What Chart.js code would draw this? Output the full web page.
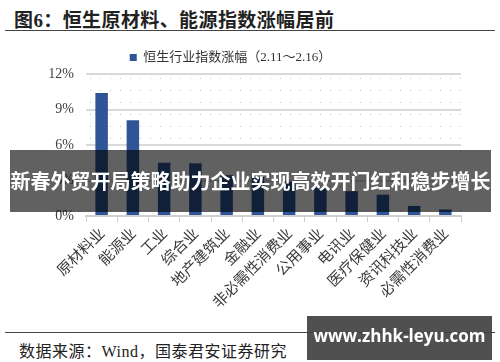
<!DOCTYPE html>
<html>
<head>
<meta charset="utf-8">
<script src="https://cdn.jsdelivr.net/npm/chart.js@4.4.1/dist/chart.umd.min.js"></script>
<style>
  html, body { margin:0; padding:0; background:#fff; }
  body { width:500px; height:362px; position:relative; overflow:hidden; }
  #title { position:absolute; left:14px; top:5px; font-family:"Liberation Serif","Noto Sans CJK SC",serif; font-weight:bold; font-size:19px; letter-spacing:0.4px; color:#222; white-space:nowrap; }
  #tline { position:absolute; left:5px; top:30px; width:490px; height:1px; background:#444; }
  #wrap { position:absolute; left:0; top:36px; width:500px; height:296px; }
  #bline { position:absolute; left:5px; top:332px; width:490px; height:1px; background:#444; }
  #source { position:absolute; left:19px; top:338px; font-family:"Liberation Serif","Noto Sans CJK SC",serif; font-size:16px; letter-spacing:0.5px; color:#222; white-space:nowrap; }
  #banner { position:absolute; left:10px; top:150px; width:481px; height:62px; background:rgba(0,0,0,0.62); color:#fff; font-family:"Noto Sans CJK SC",sans-serif; font-weight:bold; font-size:20px; line-height:62px; text-align:center; white-space:nowrap; }
  #wm { position:absolute; left:307px; top:316px; width:185px; height:44px; background:rgba(65,65,65,0.92); color:#fff; font-family:"Open Sans","DejaVu Sans",sans-serif; font-weight:bold; font-size:17px; line-height:40px; text-align:center; white-space:nowrap; }
</style>
</head>
<body>
<div id="title">图6：恒生原材料、能源指数涨幅居前</div>
<div id="tline"></div>
<div id="wrap"><canvas id="c" width="500" height="296"></canvas></div>
<div id="bline"></div>
<div id="source">数据来源：Wind，国泰君安证券研究</div>
<div id="banner">新春外贸开局策略助力企业实现高效开门红和稳步增长</div>
<div id="wm">www.zhhk-leyu.com</div>
<script>
const categories = ["原材料业","能源业","工业","综合业","地产建筑业","金融业","非必需性消费业","公用事业","电讯业","医疗保健业","资讯科技业","必需性消费业"];
const seriesName = "恒生行业指数涨幅（2.11～2.16）";
const seriesValues = [10.4, 8.1, 4.5, 4.45, 3.45, 3.3, 2.9, 2.4, 2.1, 1.8, 0.85, 0.55];
const yTicks = [0, 3, 6, 9, 12];

const dotBg = {
  id: 'dotBg',
  beforeDatasetsDraw(chart) {
    const {ctx, chartArea:a} = chart;
    ctx.save();
    ctx.fillStyle = '#c4c4c4';
    for (let y = a.bottom - 6; y > a.top; y -= 12) {
      for (let x = a.left + 4; x < a.right; x += 10) {
        ctx.fillRect(Math.round(x), Math.round(y), 1, 1);
      }
    }
    ctx.restore();
  }
};

new Chart(document.getElementById('c'), {
  type: 'bar',
  data: {
    labels: categories,
    datasets: [{
      label: seriesName,
      data: seriesValues,
      backgroundColor: '#2F5597',
      borderWidth: 0,
      barPercentage: 0.4,
      categoryPercentage: 1.0
    }]
  },
  plugins: [dotBg],
  options: {
    responsive: false,
    animation: false,
    devicePixelRatio: 1,
    layout: { padding: { left: 0, right: 39, top: 7, bottom: 0 } },
    plugins: {
      legend: {
        display: true,
        labels: {
          boxWidth: 7, boxHeight: 7, padding: 8,
          color: '#333',
          font: { family: '"Liberation Serif","Noto Sans CJK SC",serif', size: 13 }
        }
      },
      tooltip: { enabled: false }
    },
    scales: {
      y: {
        min: 0, max: 12,
        afterFit(s) { s.width = 86; },
        afterBuildTicks(s) { s.ticks = yTicks.map(v => ({ value: v })); },
        ticks: {
          padding: 12,
          color: '#404040',
          font: { family: '"Liberation Serif",serif', size: 14 },
          callback: v => v + '%'
        },
        grid: { color: '#d9d9d9', lineWidth: 2, drawTicks: false },
        border: { display: false }
      },
      x: {
        afterFit(s) { s.height = 116; },
        ticks: {
          minRotation: 45, maxRotation: 45, padding: 2,
          color: '#3a3a3a',
          font: { family: '"Noto Sans CJK SC",serif', size: 15 }
        },
        grid: { offset: true, drawOnChartArea: false, color: '#d0d0d0', lineWidth: 1, tickLength: 6 },
        border: { color: '#d0d0d0', width: 2 }
      }
    }
  }
});
</script>
</body>
</html>
